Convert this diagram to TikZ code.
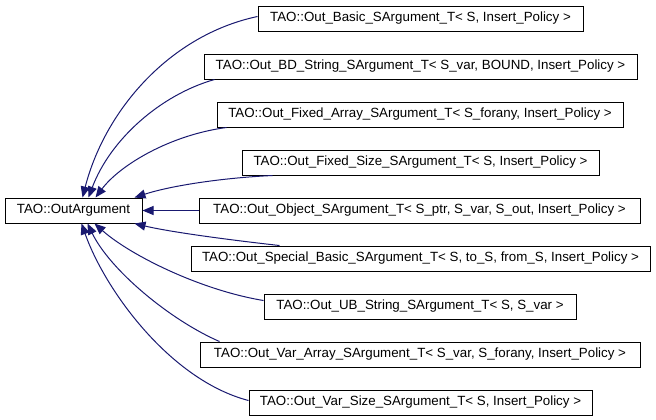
\documentclass[tikz,border=0pt]{standalone}
\usepackage{fontspec}
\setmainfont{Liberation Sans}
\usetikzlibrary{arrows.meta,calc}
\definecolor{edgeblue}{HTML}{191970}
\begin{document}
\begin{tikzpicture}[x={(0.75pt,0)},y={(0,-0.75pt)},
  cls/.style={draw=black,fill=white,line width=0.75pt,minimum height=18.75pt,inner sep=0pt,font=\fontsize{10}{12}\selectfont},
  inh/.style={draw=edgeblue,line width=0.75pt,{Triangle[length=8.25pt,width=6.75pt]}-}]
\useasboundingbox (0,0) rectangle (656,419);
\node[cls,minimum width=102.75pt] (L) at (73.5,210.5) {TAO::OutArgument};
\node[cls,minimum width=243.75pt] (b1) at (420.5,18.5) {TAO::Out\_Basic\_SArgument\_T< S, Insert\_Policy >};
\node[cls,minimum width=324.75pt] (b2) at (420.5,66.5) {TAO::Out\_BD\_String\_SArgument\_T< S\_var, BOUND, Insert\_Policy >};
\node[cls,minimum width=304.5pt] (b3) at (420,114.5) {TAO::Out\_Fixed\_Array\_SArgument\_T< S\_forany, Insert\_Policy >};
\node[cls,minimum width=267.75pt] (b4) at (420.5,162.5) {TAO::Out\_Fixed\_Size\_SArgument\_T< S, Insert\_Policy >};
\node[cls,minimum width=330.75pt] (b5) at (419.5,210.5) {TAO::Out\_Object\_SArgument\_T< S\_ptr, S\_var, S\_out, Insert\_Policy >};
\node[cls,minimum width=344.25pt] (b6) at (420.5,258.5) {TAO::Out\_Special\_Basic\_SArgument\_T< S, to\_S, from\_S, Insert\_Policy >};
\node[cls,minimum width=234pt] (b7) at (420,306.5) {TAO::Out\_UB\_String\_SArgument\_T< S, S\_var >};
\node[cls,minimum width=330pt] (b8) at (420,354.5) {TAO::Out\_Var\_Array\_SArgument\_T< S\_var, S\_forany, Insert\_Policy >};
\node[cls,minimum width=257.25pt] (b9) at (420.5,402.5) {TAO::Out\_Var\_Size\_SArgument\_T< S, Insert\_Policy >};
% edges above
\draw[inh] ($(L.north west)+(78,0)$) .. controls (105,110) and (170,35) .. ($(b1.west)+(0,-2)$);
\draw[inh] ($(L.north west)+(84,0)$) .. controls (110,140) and (160,95) .. ($(b2.south west)+(11,0)$);
\draw[inh] ($(L.north west)+(91,0)$) .. controls (120,165) and (170,135) .. ($(b3.south west)+(10,0)$);
\draw[inh] ($(L.north west)+(130,0)$) .. controls (170,186) and (220,178) .. ($(b4.south west)+(31,0)$);
\draw[inh] (L.east) -- (b5.west);
% edges below
\draw[inh] ($(L.south west)+(130,0)$) .. controls (170,232) and (230,240) .. ($(b6.north west)+(89,0)$);
\draw[inh] ($(L.south west)+(90,0)$) .. controls (130,255) and (200,290) .. ($(b7.west)+(0,-6)$);
\draw[inh] ($(L.south west)+(83,0)$) .. controls (110,270) and (170,320) .. ($(b8.north west)+(20,0)$);
\draw[inh] ($(L.south west)+(77,0)$) .. controls (105,290) and (170,380) .. ($(b9.west)+(0,-2)$);
\end{tikzpicture}
\end{document}
